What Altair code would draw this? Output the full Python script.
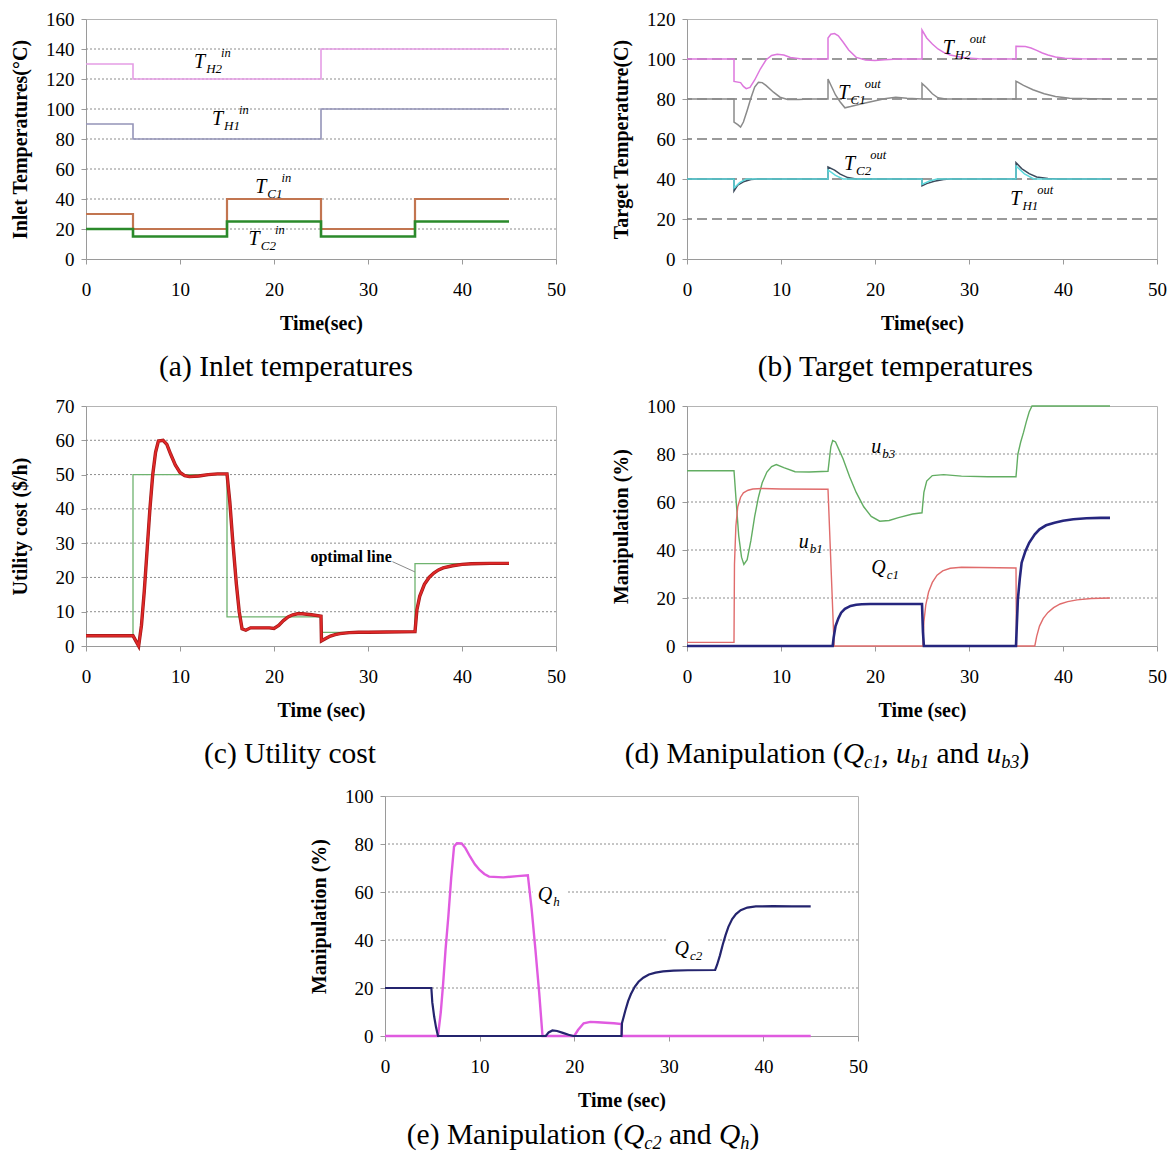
import altair as alt
import pandas as pd

FONT = "Liberation Serif"
AXC = "#9a9a9a"
DOT = "#8c8c8c"
X_TICKS = [0, 10, 20, 30, 40, 50]

# ---------------- (a) Inlet temperatures ----------------
a_t2 = [0, 5, 5, 25, 25, 45]
a_TH2 = [130, 130, 120, 120, 140, 140]
a_TH1 = [90, 90, 80, 80, 100, 100]
a_t4 = [0, 5, 5, 15, 15, 25, 25, 35, 35, 45]
a_TC1 = [30, 30, 20, 20, 40, 40, 20, 20, 40, 40]
a_TC2 = [20, 20, 15, 15, 25, 25, 15, 15, 25, 25]
a_yticks = [0, 20, 40, 60, 80, 100, 120, 140, 160]
a_grid = [20, 40, 60, 80, 100, 120, 140]
a_lab_x = [11.5, 13.4, 18.0, 17.3]
a_lab_y = [127.3, 89.3, 44.0, 9.3]
a_lab_sub = ["H2", "H1", "C1", "C2"]

# ---------------- (b) Target temperatures ----------------
b_t_TH2 = [0, 5, 5, 5.7, 6.0, 6.3, 6.7, 7.2, 7.8, 8.4, 9.0, 9.6, 10.3, 11.0, 12, 15, 15, 15.3, 15.7, 16.1,
           16.6, 17.2, 18.0, 19.0, 20.0, 21.0, 22.5, 25, 25, 25.5, 26.1, 26.7, 27.3, 28.0, 28.8, 29.7, 31, 35, 35, 36.0,
           36.6, 37.2, 37.8, 38.4, 39.2, 40.2, 42, 45]
b_TH2 = [100, 100, 88.8, 88.2, 86.3, 85.2, 85.8, 89.5, 95, 99.5, 101.8, 102.4, 102, 100.8, 100.1, 100, 110.5, 112.4, 112.7, 111.6,
         108.5, 104.5, 100.8, 99.5, 99.3, 99.6, 100, 100, 114.5, 110.5, 107.5, 105, 103.3, 102, 101.2, 100.5, 100.1, 100, 106.4, 106.2,
         105.5, 104.3, 103, 102, 101, 100.4, 100.1, 100]
b_t_TC1 = [0, 5, 5, 5.4, 5.7, 6.0, 6.4, 6.8, 7.2, 7.6, 8.0, 8.4, 9.2, 9.9, 10.7, 11.9, 13, 15, 15, 15.4,
           15.8, 16.3, 16.8, 17.4, 18.6, 19.8, 21.0, 22.2, 23.4, 25, 25, 25.5, 26.1, 26.7, 27.5, 35, 35, 35.8, 36.8, 38.0,
           39.2, 40.7, 43, 45]
b_TC1 = [80, 80, 68.5, 67.2, 66.0, 68.5, 74.3, 80.5, 86, 88.4, 88.2, 86.8, 83.4, 80.9, 79.8, 79.8, 80, 80, 90, 86,
         82, 78.5, 75.6, 76.2, 77.6, 78.9, 80.1, 80.9, 80.4, 80, 87.8, 85.6, 82.6, 80.6, 80, 80, 88.9, 86.8, 84.6, 82.6,
         81.3, 80.4, 80.1, 80]
b_t_TC2 = [0, 5, 5, 5.4, 6.0, 6.8, 7.5, 15, 15, 15.7, 16.3, 17.1, 18, 25, 25, 25.5, 26.3, 27.3, 28, 35,
           35, 35.6, 36.4, 37.2, 38.4, 39.5, 45]
b_TC2 = [40, 40, 34, 36.9, 38.6, 39.7, 40, 40, 46, 44.4, 42.4, 40.7, 40, 40, 36.6, 37.7, 38.9, 39.7, 40, 40,
         48.2, 45.2, 42.7, 41, 40.2, 40, 40]
b_t_TH1 = [0, 5, 5, 5.6, 6.3, 15, 15, 15.8, 16.6, 25, 25, 25.8, 26.6, 35, 35, 35.9, 36.9, 45]
b_TH1 = [40, 40, 35.5, 38.2, 40, 40, 44.5, 41.8, 40, 40, 37.3, 39.0, 40, 40, 46.5, 42.6, 40, 40]
b_yticks = [0, 20, 40, 60, 80, 100, 120]
b_grid = [20, 40, 60, 80, 100]
b_lab_x = [27.2, 16.1, 16.7, 34.4]
b_lab_y = [102.5, 80.1, 44.4, 26.9]
b_lab_sub = ["H2", "C1", "C2", "H1"]

# ---------------- (c) Utility cost ----------------
c_t_opt = [0, 5, 5, 15, 15, 25, 25, 35, 35, 45]
c_opt = [3, 3, 50, 50, 8.5, 8.5, 4, 4, 24, 24]
c_t_act = [0, 5, 5.3, 5.6, 5.9, 6.2, 6.5, 6.8, 7.1, 7.4, 7.7, 8.2, 8.6, 9.0, 9.5, 10.0, 10.5, 11.0, 12.0, 13.0,
           14.0, 15.0, 15.3, 15.6, 16.0, 16.3, 16.6, 17.0, 17.5, 18.5, 19.5, 20.0, 20.5, 21.0, 21.5, 22.0, 22.5, 23.0, 24.0, 25.0,
           25.05, 25.5, 26.0, 26.5, 27.0, 28.0, 29.0, 30.0, 32.0, 35.0, 35.2, 35.5, 36.0, 36.5, 37.0, 37.5, 38.0, 39.0, 40.0, 41.0,
           43.0, 45.0]
c_act = [3, 3, 1.5, 0, 6, 16, 28, 40, 50, 56.5, 59.8, 60, 58.8, 56, 52.8, 50.6, 49.7, 49.4, 49.6, 50,
         50.2, 50.2, 42, 31, 18, 10, 5, 4.6, 5.3, 5.3, 5.3, 5.1, 6.0, 7.4, 8.5, 9.1, 9.4, 9.4, 9.1, 8.7,
         1.5, 2.2, 2.9, 3.3, 3.6, 3.9, 4.0, 4.0, 4.1, 4.2, 10.5, 14.5, 18, 20, 21.3, 22.2, 22.8, 23.4, 23.8, 24.0,
         24.1, 24.1]
c_yticks = [0, 10, 20, 30, 40, 50, 60, 70]
c_grid = [10, 20, 30, 40, 50, 60]
c_note_x = [28.2]
c_note_y = [24.6]
c_lead_t = [32.6, 35.0]
c_lead_v = [24.6, 21.6]

# ---------------- (d) Manipulation Qc1, ub1, ub3 ----------------
d_t_ub3 = [0, 5, 5.2, 5.5, 5.8, 6.05, 6.4, 6.8, 7.2, 7.6, 8.0, 8.5, 9.0, 9.5, 10.3, 11.5, 13.0, 15.0, 15.15, 15.3,
           15.5, 15.8, 16.2, 16.6, 17.3, 18.0, 18.8, 19.6, 20.5, 21.5, 22.5, 24.0, 25.0, 25.2, 25.5, 26.1, 27.3, 29.2, 32.0, 35.0,
           35.2, 35.5, 35.8, 36.1, 36.4, 36.7, 37.0, 40.0, 45.0]
d_ub3 = [73, 73, 62, 46, 37, 34, 36, 44, 54, 62, 68, 72.5, 74.8, 75.6, 74.3, 72.6, 72.5, 72.8, 78, 83,
         85.6, 85, 81.5, 78, 70.5, 64, 58, 54, 52, 52.3, 53.5, 55, 55.5, 64, 68.7, 71, 71.4, 70.8, 70.5, 70.5,
         80, 85, 89, 93.5, 97.5, 100, 100, 100, 100]
d_t_ub1 = [0, 5, 5.05, 5.2, 5.4, 5.7, 6.0, 6.5, 7.0, 8.0, 10.0, 15.0, 15.65, 25.1, 25.2, 25.4, 25.7, 26.1, 26.6, 27.2,
           28.0, 29.2, 35.0, 35.05, 37.0, 37.2, 37.5, 37.9, 38.4, 39.0, 39.7, 40.5, 41.5, 43.0, 45.0]
d_ub1 = [1.5, 1.5, 34, 50, 58, 62, 63.8, 64.9, 65.4, 65.6, 65.4, 65.3, 0, 0, 10, 17, 22.5, 26.5, 29.5, 31.3,
         32.4, 32.8, 32.5, 0, 0, 4, 8.3, 11.5, 14, 16, 17.5, 18.5, 19.2, 19.8, 20]
d_t_Qc1 = [0, 15.5, 15.6, 15.8, 16.1, 16.4, 16.8, 17.4, 18.0, 18.6, 19.5, 21.0, 25.0, 25.1, 25.2, 35.0, 35.1, 35.2, 35.4, 35.6,
           36.0, 36.4, 37.0, 37.5, 38.2, 39.1, 40.0, 41.1, 42.5, 44.0, 45.0]
d_Qc1 = [0, 0, 3.5, 8.3, 11.5, 13.9, 15.5, 16.7, 17.2, 17.4, 17.5, 17.5, 17.5, 6, 0, 0, 10, 19.4, 28, 34.7,
         39.5, 43, 46.5, 48.6, 50.3, 51.4, 52.2, 52.8, 53.2, 53.4, 53.4]
m_yticks = [0, 20, 40, 60, 80, 100]
m_grid = [20, 40, 60, 80]
d_lab_x = [19.6, 11.9, 19.6]
d_lab_y = [80.3, 40.7, 29.9]
d_lab_base = ["u", "u", "Q"]
d_lab_sub = ["b3", "b1", "c1"]

# ---------------- (e) Manipulation Qc2, Qh ----------------
e_t_Qh = [0, 5.6, 5.9, 6.15, 6.4, 6.7, 7.0, 7.3, 7.6, 8.1, 8.5, 9.0, 9.5, 10.0, 10.5, 11.0, 12.5, 14.0, 15.1, 15.5,
          15.9, 16.3, 16.65, 20.0, 20.4, 21.0, 21.7, 22.5, 23.3, 24.2, 25.0, 25.05, 45.0]
e_Qh = [0, 0, 10, 22, 36, 50, 66, 79, 80.3, 80.2, 78.3, 74.7, 71.5, 69.2, 67.5, 66.4, 66.1, 66.6, 67, 53,
        36, 18, 0, 0, 2.5, 5.3, 5.9, 5.7, 5.5, 5.3, 5.0, 0, 0]
e_t_Qc2 = [0, 4.9, 5.0, 5.2, 5.4, 5.6, 17.0, 17.3, 17.7, 18.2, 18.8, 19.4, 19.9, 25.0, 25.05, 25.4, 25.7, 26.0, 26.4, 26.8,
           27.3, 27.9, 28.6, 29.4, 30.5, 32.0, 34.9, 35.1, 35.4, 35.7, 36.0, 36.3, 36.7, 37.1, 37.6, 38.3, 39.2, 41.0, 43.0, 45.0]
e_Qc2 = [20, 20, 14, 8, 3.5, 0, 0, 1.5, 2.3, 2.1, 1.3, 0.5, 0, 0, 5.3, 10.5, 14.5, 17.5, 20.5, 22.6,
         24.3, 25.6, 26.4, 26.9, 27.2, 27.4, 27.5, 29.6, 33.5, 38, 42, 45.5, 48.7, 50.8, 52.4, 53.5, 54, 54.1, 54.0, 54.0]
e_lab_x = [16.15, 30.6]
e_lab_y = [56.4, 33.75]
e_lab_sub = ["h", "c2"]
e_box_x = [15.6, 29.8]
e_box_x2 = [19.3, 34.0]
e_box_y = [57.0, 37.0]
e_box_y2 = [63.0, 43.0]

# ---------------- helpers ----------------
REG_W = {" ": .25, "(": .333, ")": .333, ",": .25, "a": .444, "b": .5, "c": .444, "d": .5, "e": .444,
         "g": .5, "h": .5, "i": .278, "l": .278, "m": .778, "n": .5, "o": .5, "p": .5, "r": .333,
         "s": .389, "t": .278, "u": .5, "y": .5, "I": .333, "M": .889, "T": .611, "U": .722}
ITA_W = {"Q": .722, "u": .5, "c": .444, "b": .5, "h": .5, "1": .5, "2": .5, "3": .5, "T": .556,
         "H": .722, "C": .667}
CAP = 29.5


def tw(s, size, italic):
    table = ITA_W if italic else REG_W
    return sum(table.get(ch, 0.5) for ch in s) * size


def axis_x(title):
    return alt.Axis(values=X_TICKS, title=title, grid=False, labelFlush=False, domainColor=AXC,
                    tickColor=AXC, tickSize=5, labelFont=FONT, labelFontSize=19, labelColor="black",
                    labelPadding=16, titleFont=FONT, titleFontSize=20, titleFontWeight="bold",
                    titleColor="black", titlePadding=14)


def axis_y(title, values, tp):
    return alt.Axis(values=values, title=title, grid=False, domainColor=AXC, tickColor=AXC, tickSize=5,
                    labelFont=FONT, labelFontSize=19, labelColor="black", labelPadding=7,
                    titleFont=FONT, titleFontSize=20, titleFontWeight="bold", titleColor="black",
                    titlePadding=tp)


def encs(ydom, yvals, ytitle, xtitle, tp=15):
    x = alt.X("t:Q", scale=alt.Scale(domain=[0, 50], nice=False, zero=False), axis=axis_x(xtitle))
    y = alt.Y("v:Q", scale=alt.Scale(domain=ydom, nice=False, zero=False), axis=axis_y(ytitle, yvals, tp))
    return x, y


def line(t, v, color, width, x, y):
    df = pd.DataFrame({"t": t, "v": v, "i": list(range(len(t)))})
    return alt.Chart(df).mark_line(color=color, strokeWidth=width).encode(x=x, y=y, order="i:Q")


def grid(values, y, dash, color=DOT, width=1.0):
    df = pd.DataFrame({"v": values})
    return alt.Chart(df).mark_rule(color=color, strokeDash=dash, strokeWidth=width).encode(y=y)


def mlabel(x, y, px, py, base, sub, sup, size=20):
    df = pd.DataFrame({"t": [px], "v": [py]})
    bw = tw(base, size, True) + 1
    layers = [alt.Chart(df).mark_text(text=base, font=FONT, fontStyle="italic", fontSize=size,
                                      align="left", baseline="alphabetic", color="black").encode(x=x, y=y)]
    layers.append(alt.Chart(df).mark_text(text=sub, font=FONT, fontStyle="italic", fontSize=13,
                                          align="left", baseline="alphabetic", color="black",
                                          dx=bw, dy=5).encode(x=x, y=y))
    if sup:
        sw = tw(sub, 13, True) - 1
        layers.append(alt.Chart(df).mark_text(text=sup, font=FONT, fontStyle="italic", fontSize=12.5,
                                              align="left", baseline="alphabetic", color="black",
                                              dx=bw + sw, dy=-11).encode(x=x, y=y))
    return layers


ONE = pd.DataFrame({"k": [0]})


def caption(pieces, cx, by):
    sizes = {"n": CAP, "i": CAP, "s": CAP * 0.62}
    widths = [tw(t, sizes[s], s != "n") for t, s in pieces]
    xpos = cx - sum(widths) / 2
    layers = []
    for (t, s), w in zip(pieces, widths):
        lead = len(t) - len(t.lstrip(" "))
        kw = dict(text=t.strip(" "), font=FONT, fontSize=sizes[s], align="left",
                  baseline="alphabetic", color="black")
        if s != "n":
            kw["fontStyle"] = "italic"
        layers.append(alt.Chart(ONE).mark_text(**kw).encode(
            x=alt.value(xpos + tw(" " * lead, sizes[s], False)),
            y=alt.value(by + (5 if s == "s" else 0))))
        xpos += w
    return layers


H = 240
CAP_Y = H + 117

# ---------------- panel (a) ----------------
xa, ya = encs([0, 160], a_yticks, "Inlet Temperatures(°C)", "Time(sec)")
la = [grid(a_grid, ya, [2, 2]),
      line(a_t2, a_TH2, "#e59de5", 1.6, xa, ya),
      line(a_t2, a_TH1, "#9494b8", 1.6, xa, ya),
      line(a_t4, a_TC1, "#c27550", 2.2, xa, ya),
      line(a_t4, a_TC2, "#2b8a2b", 2.6, xa, ya)]
for px, py, sb in zip(a_lab_x, a_lab_y, a_lab_sub):
    la += mlabel(xa, ya, px, py, "T", sb, "in")
la += caption([("(a) Inlet temperatures", "n")], 200, CAP_Y)
pa = alt.layer(*la).properties(width=470, height=H)

# ---------------- panel (b) ----------------
xb, yb = encs([0, 120], b_yticks, "Target Temperature(C)", "Time(sec)")
lb = [grid(b_grid, yb, [10, 5], color="#7a7a7a", width=1.4),
      line(b_t_TH2, b_TH2, "#dd77dd", 1.5, xb, yb),
      line(b_t_TC1, b_TC1, "#8a8a8a", 1.5, xb, yb),
      line(b_t_TC2, b_TC2, "#3c4a5c", 1.5, xb, yb),
      line(b_t_TH1, b_TH1, "#5cd8dc", 1.5, xb, yb)]
for px, py, sb in zip(b_lab_x, b_lab_y, b_lab_sub):
    lb += mlabel(xb, yb, px, py, "T", sb, "out")
lb += caption([("(b) Target temperatures", "n")], 210, CAP_Y)
pb = alt.layer(*lb).properties(width=470, height=H)

# ---------------- panel (c) ----------------
xc, yc = encs([0, 70], c_yticks, "Utility cost ($/h)", "Time (sec)", tp=25)
lc = [grid(c_grid, yc, [2, 2]),
      line(c_t_opt, c_opt, "#6fb36f", 1.3, xc, yc),
      line(c_lead_t, c_lead_v, "#8a8a8a", 1.0, xc, yc),
      line(c_t_act, c_act, "#a01818", 3.4, xc, yc),
      line(c_t_act, c_act, "#e02828", 2.0, xc, yc)]
lc.append(alt.Chart(pd.DataFrame({"t": c_note_x, "v": c_note_y})).mark_text(
    text="optimal line", font=FONT, fontWeight="bold", fontSize=16, align="center",
    baseline="alphabetic", color="black").encode(x=xc, y=yc))
lc += caption([("(c) Utility cost", "n")], 204, CAP_Y)
pc = alt.layer(*lc).properties(width=470, height=H)

# ---------------- panel (d) ----------------
xd, yd = encs([0, 100], m_yticks, "Manipulation (%)", "Time (sec)")
ld = [grid(m_grid, yd, [2, 2]),
      line(d_t_ub3, d_ub3, "#62ad62", 1.4, xd, yd),
      line(d_t_ub1, d_ub1, "#e06c6c", 1.4, xd, yd),
      line(d_t_Qc1, d_Qc1, "#26267e", 2.6, xd, yd)]
for px, py, bs, sb in zip(d_lab_x, d_lab_y, d_lab_base, d_lab_sub):
    ld += mlabel(xd, yd, px, py, bs, sb, None)
ld += caption([("(d) Manipulation (", "n"), ("Q", "i"), ("c1", "s"), (", ", "n"), ("u", "i"),
               ("b1", "s"), (" and ", "n"), ("u", "i"), ("b3", "s"), (")", "n")], 140, CAP_Y)
pd_ = alt.layer(*ld).properties(width=470, height=H)

# ---------------- panel (e) ----------------
xe, ye = encs([0, 100], m_yticks, "Manipulation (%)", "Time (sec)")
box = alt.Chart(pd.DataFrame({"t": e_box_x, "t2": e_box_x2, "v": e_box_y, "v2": e_box_y2})).mark_rect(
    color="white").encode(x=xe, x2="t2:Q", y=ye, y2="v2:Q")
le = [grid(m_grid, ye, [2, 2]), box,
      line(e_t_Qh, e_Qh, "#e05be0", 2.4, xe, ye),
      line(e_t_Qc2, e_Qc2, "#24246e", 2.2, xe, ye)]
for px, py, bs, sb in zip(e_lab_x, e_lab_y, ["Q", "Q"], e_lab_sub):
    le += mlabel(xe, ye, px, py, bs, sb, None)
le += caption([("(e) Manipulation (", "n"), ("Q", "i"), ("c2", "s"), (" and ", "n"), ("Q", "i"),
               ("h", "s"), (")", "n")], 198, H + 108)
pe = alt.layer(*le).properties(width=473, height=H)

spacer = alt.Chart(ONE).mark_point(opacity=0).encode(x=alt.value(0), y=alt.value(0)).properties(
    width=222, height=10, view=alt.ViewBackground(stroke="transparent"))

row1 = alt.hconcat(pa, pb, spacing=45)
row2 = alt.hconcat(pc, pd_, spacing=45)
row3 = alt.hconcat(spacer, pe, spacing=0)

chart = alt.vconcat(row1, row2, row3, spacing=14).properties(
    padding={"left": 1, "top": 1, "right": 0, "bottom": 0}, background="white"
).configure_view(stroke="#b4b4b4", strokeWidth=1)

chart.save("out.html", embed_options={"renderer": "svg", "actions": False})
